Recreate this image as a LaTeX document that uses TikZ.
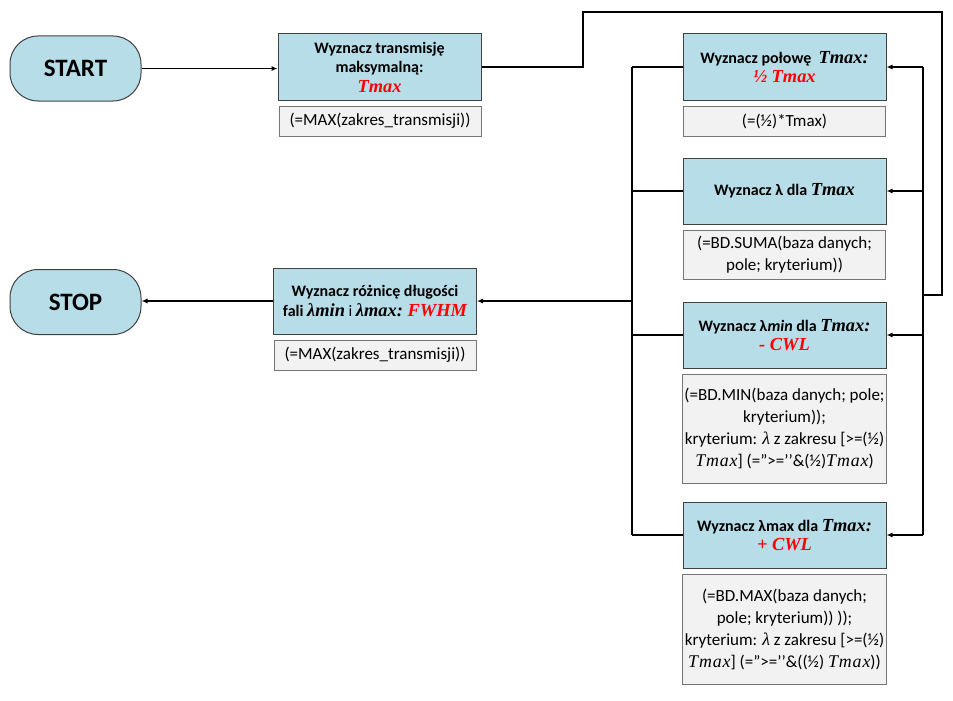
\documentclass[tikz,border=0pt]{standalone}
\usepackage{fontspec}
\setmainfont{Carlito}
\newfontfamily\SerifFont[Scale=1.15]{Liberation Serif}
\newfontfamily\SerifItFont[Scale=1.05,LetterSpace=5]{Liberation Serif}
\usepackage{tikz}
\usetikzlibrary{arrows.meta}
\usepackage{xcolor}
\definecolor{ColBox}{RGB}{183,221,232}
\definecolor{ColNote}{RGB}{242,242,242}
\definecolor{ColEdge}{RGB}{64,64,64}
\definecolor{ColNoteEdge}{RGB}{118,118,118}
\newcommand{\TMx}[1]{{\SerifFont\bfseries\itshape #1}}
\newcommand{\RedTMx}[1]{\textcolor{red}{\TMx{#1}}}
\newcommand{\MathIt}[1]{{\SerifItFont\itshape #1}}
\tikzstyle{EndNode}=[draw=ColEdge,fill=ColBox,rounded corners=28pt,minimum width=131pt,
minimum height=65pt,line width=1pt,font=\fontsize{25}{30}\selectfont\bfseries]
\tikzstyle{StepBox}=[draw=ColEdge,fill=ColBox,minimum width=203pt,minimum height=66pt,
line width=1pt,align=center,font=\fontsize{16}{19.5}\selectfont\bfseries]
\tikzstyle{NoteBox}=[draw=ColNoteEdge,fill=ColNote,minimum width=202pt,inner xsep=2pt,line width=1pt,
align=center,font=\fontsize{17}{22}\selectfont]
\tikzstyle{Flow}=[line width=1.1pt]
\tikzstyle{FlowArrow}=[Flow,-{Latex[length=6pt,width=5pt]}]

\begin{document}
\begin{tikzpicture}[x=1pt,y=-1pt]
        \useasboundingbox(0,0)rectangle(953,701);
        \node[EndNode](Start)at(75.5,68.5){START};
        \node[StepBox](TMax)at(379.5,67){Wyznacz transmisję\\maksymalną:\\\RedTMx{Tmax}};
        \node[NoteBox,minimum height=30pt](TMaxNote)at(380,121){(=MAX(zakres\_transmisji))};
        \node[StepBox](Half)at(784.5,67){Wyznacz połowę \ \TMx{Tmax:}\\\RedTMx{½ Tmax}};
        \node[NoteBox,minimum height=30pt](HalfNote)at(784.5,121){(=(½)*Tmax)};
        \node[StepBox](Lam)at(784.5,191){Wyznacz λ dla \TMx{Tmax}};
        \node[NoteBox,minimum height=49pt](LamNote)at(784.5,254.5){(=BD.SUMA(baza danych;\\pole; kryterium))};
        \node[StepBox](LamMin)at(784.5,335){Wyznacz λ\textit{min} dla \TMx{Tmax:}\\\RedTMx{- CWL}};
        \node[NoteBox,minimum height=109pt](LamMinNote)at(784.5,428.5){(=BD.MIN(baza danych; pole;\\kryterium));\\kryterium: \MathIt{λ} z zakresu [>=(½)\\\MathIt{Tmax}] (=”>=’’\&(½)\MathIt{Tmax})};
        \node[StepBox](LamMax)at(784.5,535){Wyznacz λmax dla \TMx{Tmax:}\\\RedTMx{+ CWL}};
        \node[NoteBox,minimum height=110pt](LamMaxNote)at(784.5,629){(=BD.MAX(baza danych;\\pole; kryterium)) ));\\kryterium: \MathIt{λ} z zakresu [>=(½)\\\MathIt{Tmax}] (=”>=’’\&((½) \MathIt{Tmax}))};
        \node[StepBox](Fwhm)at(375,301){Wyznacz różnicę długości\\fali \TMx{λmin} {\mdseries i} \TMx{λmax:} \RedTMx{FWHM}};
        \node[NoteBox,minimum height=30pt](FwhmNote)at(375,355){(=MAX(zakres\_transmisji))};
        \node[EndNode](Stop)at(75.5,302){STOP};
        \coordinate(LoopA)at(583,12);
        \coordinate(LoopB)at(942,12);
        \coordinate(LoopC)at(942,295);
        \coordinate(RBus)at(923,295);
        \coordinate(LBus)at(632,301);
        \draw[FlowArrow](Start.east)--(Start.east-|TMax.west);
        \draw[Flow](TMax.east)-|(LoopA)--(LoopB)--(LoopC)--(RBus);
        \draw[Flow](Half.east-|RBus)--(LamMax.east-|RBus);
        \foreach \s in {Half,Lam,LamMin,LamMax}
            \draw[FlowArrow](\s.east-|RBus)--(\s.east);
        \foreach \s in {Half,Lam,LamMin,LamMax}
            \draw[Flow](\s.west)--(\s.west-|LBus);
        \draw[Flow](Half.west-|LBus)--(LamMax.west-|LBus);
        \draw[FlowArrow](LBus)--(Fwhm.east);
        \draw[FlowArrow](Fwhm.west)--(Fwhm.west-|Stop.east);
    \end{tikzpicture}
\end{document}
